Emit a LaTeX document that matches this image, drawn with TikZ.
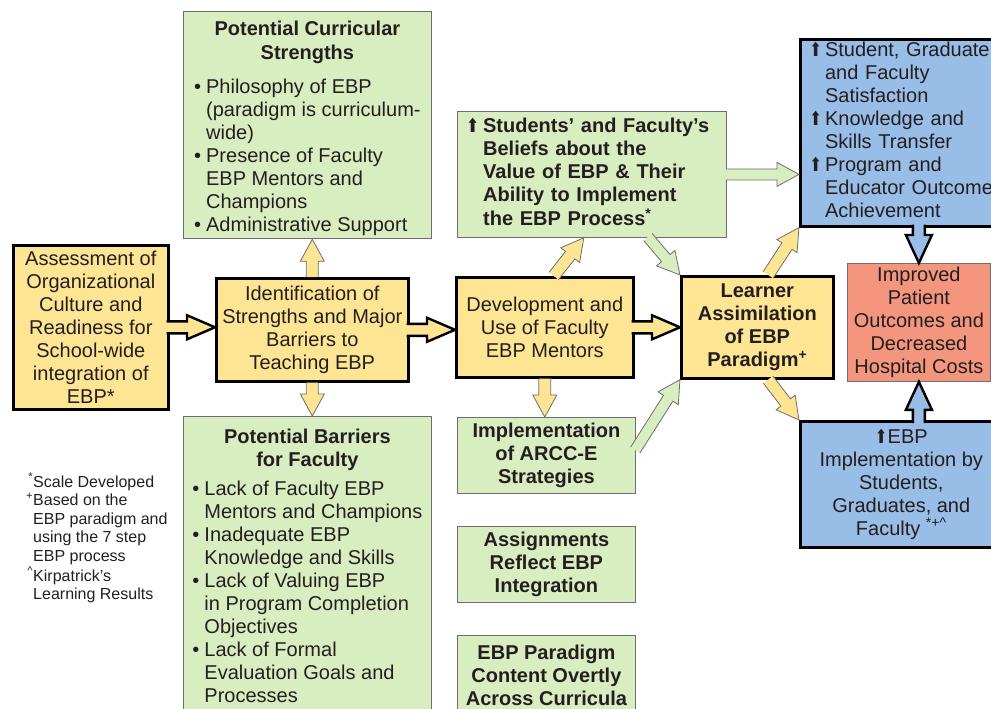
\documentclass[tikz,border=0pt]{standalone}
\usepackage{fontspec}
\setmainfont{Liberation Sans}
\newfontfamily\symfont{DejaVu Sans}
\usetikzlibrary{calc}

\definecolor{ebpyellow}{HTML}{FDE593}
\definecolor{ebpgreen}{HTML}{D9EEC0}
\definecolor{ebpblue}{HTML}{98BDE6}
\definecolor{ebpred}{HTML}{F4957E}
\definecolor{ebpline}{HTML}{6E6E6E}
\definecolor{ebptext}{HTML}{231F20}

\newcommand\boxfont{\fontsize{20}{23}\selectfont}
\newcommand\notefont{\fontsize{16}{18.6}\selectfont}
\newcommand\uparr{{\symfont\fontsize{19}{19}\selectfont\scalebox{0.8}[1]{⬆}}}
\newcommand\bul{\textbullet}
% arrow sizes, set by the arrow styles
\newcommand\shaftw{6}\newcommand\headw{12}\newcommand\headl{22}\newcommand\tailx{0}

% fat block arrow from #2 to #3
\newcommand\fatarrow[3][]{%
  \path let \p1=(#2), \p2=(#3) in
    \pgfextra{\pgfmathsetmacro\arrang{atan2(\y2-\y1,\x2-\x1)}\global\let\arrang\arrang
      \pgfmathsetmacro\arrlen{veclen(\x2-\x1,\y2-\y1)}\global\let\arrlen\arrlen};
  \filldraw[#1, shift={(#2)}, rotate=\arrang]
    (-\tailx,\shaftw) -- ({\arrlen-\headl},\shaftw) -- ({\arrlen-\headl},\headw)
    -- (\arrlen,0) -- ({\arrlen-\headl},-\headw) -- ({\arrlen-\headl},-\shaftw)
    -- (-\tailx,-\shaftw);
}

\tikzset{
  box/.style={anchor=north west, inner sep=0pt, align=center, font=\boxfont, text=ebptext},
  ybox/.style={box, draw=black, line width=2.6pt, fill=ebpyellow},
  gbox/.style={box, draw=ebpline, line width=0.8pt, fill=ebpgreen},
  bbox/.style={box, draw=black, line width=2.6pt, fill=ebpblue},
  rbox/.style={box, draw=ebpline, line width=0.8pt, fill=ebpred},
  bold/.style={font=\boxfont\bfseries},
  yblack/.style={fill=ebpyellow, draw=black, line width=2.4pt,
    /utils/exec={\def\shaftw{6}\def\headw{12}\def\headl{28}\def\tailx{3}}},
  ythin/.style={fill=ebpyellow, draw=ebpline, line width=0.8pt,
    /utils/exec={\def\shaftw{6}\def\headw{12}\def\headl{22}\def\tailx{0}}},
  gthin/.style={fill=ebpgreen, draw=ebpline, line width=0.8pt,
    /utils/exec={\def\shaftw{5.5}\def\headw{12}\def\headl{22}\def\tailx{1}}},
  bblack/.style={fill=ebpblue, draw=black, line width=2.4pt,
    /utils/exec={\def\shaftw{6}\def\headw{13}\def\headl{28}\def\tailx{3}}},
}

\begin{document}
\begin{tikzpicture}[x=1pt, y=-1pt]
\useasboundingbox (0,0) rectangle (991,709);

% main chain
\node[ybox, minimum width=155, minimum height=164] (assess) at (12,244)
  {Assessment of\\Organizational\\Culture and\\Readiness for\\School-wide\\integration of\\EBP*};
\node[ybox, minimum width=192, minimum height=103] (ident) at (215,277)
  {Identification of\\Strengths and Major\\Barriers to\\Teaching EBP};
\node[ybox, minimum width=177, minimum height=100] (develop) at (455,276)
  {Development and\\Use of Faculty\\EBP Mentors};
\node[ybox, bold, minimum width=152, minimum height=102] (learner) at (680,275)
  {Learner\\Assimilation\\of EBP\\Paradigm\textsuperscript{+}};

% strengths and barriers
\node[gbox, minimum width=248, inner ysep=10, text depth=135] (strengths) at (183,11)
  {\textbf{Potential Curricular}\\[1pt]\textbf{Strengths}\\[11pt]
   \begin{tabular}[t]{@{}l@{\hspace{5pt}}l@{}}
   \bul & Philosophy of EBP\\
        & (paradigm is curriculum-\\
        & wide)\\
   \bul & Presence of Faculty\\
        & EBP Mentors and\\
        & Champions\\
   \bul & Administrative Support
   \end{tabular}};
\node[gbox, minimum width=248, inner ysep=13, text depth=300] (barriers) at (183,416)
  {\textbf{Potential Barriers}\\\textbf{for Faculty}\\[7pt]
   \begin{tabular}{@{}l@{\hspace{5pt}}l@{}}
   \bul & Lack of Faculty EBP\\
        & Mentors and Champions\\
   \bul & Inadequate EBP\\
        & Knowledge and Skills\\
   \bul & Lack of Valuing EBP\\
        & in Program Completion\\
        & Objectives\\
   \bul & Lack of Formal\\
        & Evaluation Goals and\\
        & Processes
   \end{tabular}};

% middle column
\node[gbox, bold, minimum width=269, minimum height=126, inner xsep=9pt, text width=251pt, align=left] (beliefs) at (457,111)
  {\begin{tabular}{@{}l@{\hspace{4pt}}l@{}}
   \uparr & Students’ and Faculty’s\\
          & Beliefs about the\\
          & Value of EBP \& Their\\
          & Ability to Implement\\
          & the EBP Process\textsuperscript{*}
   \end{tabular}};
\node[gbox, bold, minimum width=178, minimum height=76] (impl) at (457,417)
  {Implementation\\of ARCC-E\\Strategies};
\node[gbox, bold, minimum width=178, minimum height=76] (assign) at (457,526)
  {Assignments\\Reflect EBP\\Integration};
\node[gbox, bold, minimum width=178, inner ysep=10, text depth=60] (content) at (457,635)
  {EBP Paradigm\\Content Overtly\\Across Curricula};

% outcomes
\node[bbox, minimum width=202, minimum height=187, inner xsep=9pt, text width=184pt, align=left] (outtop) at (799,38)
  {\begin{tabular}{@{}l@{\hspace{3pt}}l@{}}
   \uparr & Student, Graduate\\
          & and Faculty\\
          & Satisfaction\\
   \uparr & Knowledge and\\
          & Skills Transfer\\
   \uparr & Program and\\
          & Educator Outcome\\
          & Achievement
   \end{tabular}};
\node[rbox, minimum width=143, minimum height=118] (outcome) at (847,263)
  {Improved\\Patient\\Outcomes and\\Decreased\\Hospital Costs};
\node[bbox, minimum width=202, minimum height=126] (outbot) at (799,420)
  {\uparr EBP\\Implementation by\\Students,\\Graduates, and\\Faculty \textsuperscript{*+\textasciicircum}};

% notes
\node[anchor=north west, inner sep=0pt, font=\notefont, text=ebptext] (notes) at (26,473)
  {\begin{tabular}{@{}r@{}l@{}}
   \textsuperscript{*} & Scale Developed\\
   \textsuperscript{+} & Based on the\\
                       & EBP paradigm and\\
                       & using the 7 step\\
                       & EBP process\\
   \textsuperscript{\textasciicircum} & Kirpatrick’s\\
                       & Learning Results
   \end{tabular}};

% arrows
\fatarrow[yblack]{assess.east}{assess.east -| ident.west}
\fatarrow[yblack]{ident.east}{ident.east -| develop.west}
\fatarrow[yblack]{develop.east}{develop.east -| learner.west}
\fatarrow[ythin]{ident.north}{ident.north |- strengths.south}
\fatarrow[ythin]{ident.south}{ident.south |- barriers.north}
\fatarrow[ythin]{develop.south}{develop.south |- impl.north}
\coordinate (dv-up) at ($(develop.north west)!0.55!(develop.north east)$);
\coordinate (bl-in) at ($(beliefs.south west)!0.47!(beliefs.south east)$);
\fatarrow[ythin]{dv-up}{bl-in}
\coordinate (bl-out) at ($(beliefs.south west)!0.71!(beliefs.south east)$);
\fatarrow[gthin]{bl-out}{learner.north west}
\fatarrow[gthin]{beliefs.east}{beliefs.east -| outtop.west}
\coordinate (im-out) at ($(impl.north east)!0.42!(impl.south east)$);
\fatarrow[gthin]{im-out}{learner.south west}
\coordinate (ln-up) at ($(learner.north west)!0.57!(learner.north east)$);
\fatarrow[ythin]{ln-up}{outtop.south west}
\coordinate (ln-dn) at ($(learner.south west)!0.57!(learner.south east)$);
\fatarrow[ythin]{ln-dn}{outbot.north west}
\fatarrow[bblack]{outcome.north |- outtop.south}{outcome.north}
\fatarrow[bblack]{outcome.south |- outbot.north}{outcome.south}
\end{tikzpicture}
\end{document}
